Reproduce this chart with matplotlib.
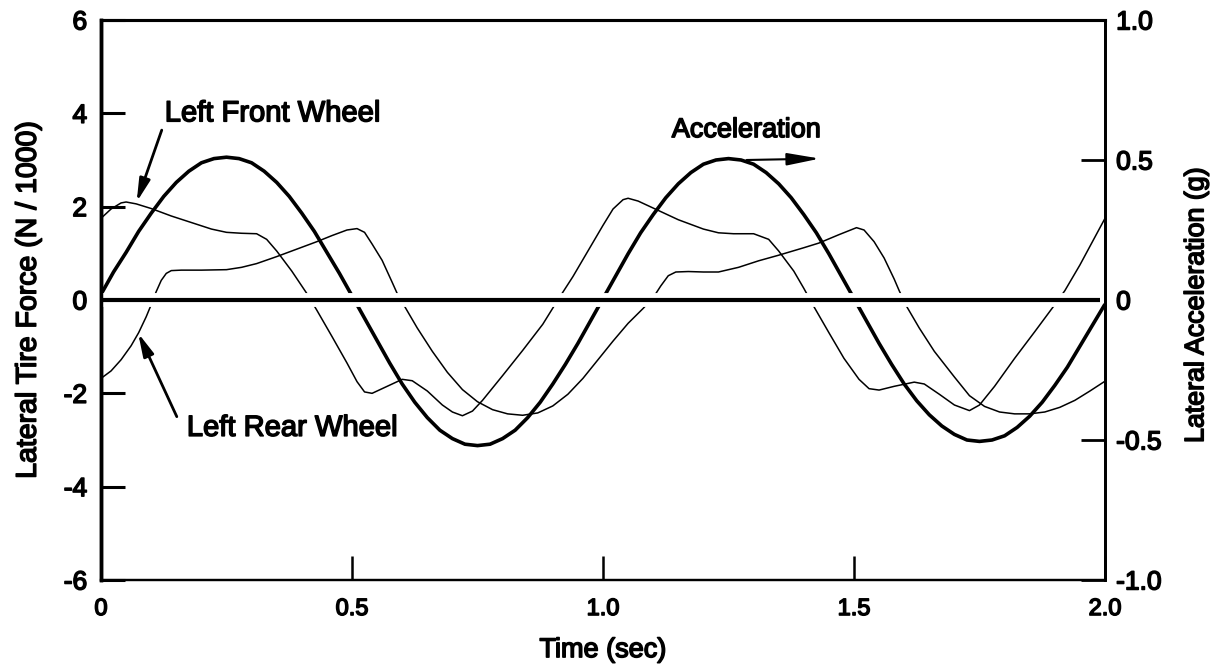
import matplotlib
matplotlib.use("Agg")
import matplotlib.pyplot as plt
import matplotlib.patheffects as pe

plt.rcParams['font.family'] = ['Liberation Sans', 'DejaVu Sans']

# ---------------- data ----------------
lf_time = [0.00, 0.02, 0.04, 0.05, 0.07, 0.10, 0.14, 0.18, 0.22, 0.25, 0.28, 0.31,
           0.33, 0.35, 0.38, 0.41, 0.43, 0.46, 0.49, 0.51, 0.525, 0.54, 0.57, 0.60,
           0.62, 0.65, 0.68, 0.70, 0.72, 0.74, 0.76, 0.80, 0.84, 0.88, 0.91, 0.94,
           0.97, 1.00, 1.02, 1.04, 1.05, 1.07, 1.10, 1.15, 1.20, 1.23, 1.26, 1.30,
           1.33, 1.35, 1.38, 1.40, 1.42, 1.45, 1.48, 1.51, 1.53, 1.55, 1.58, 1.62,
           1.64, 1.67, 1.70, 1.73, 1.75, 1.78, 1.82, 1.86, 1.90, 1.92, 1.95, 1.98, 2.00]
lf_force = [1.75, 1.95, 2.08, 2.10, 2.06, 1.96, 1.80, 1.66, 1.52, 1.45, 1.43, 1.42,
            1.30, 1.05, 0.62, 0.14, -0.22, -0.78, -1.35, -1.75, -1.97, -2.00, -1.85, -1.70,
            -1.73, -1.95, -2.25, -2.40, -2.48, -2.38, -2.15, -1.62, -1.08, -0.52, 0.00, 0.50,
            1.05, 1.60, 1.95, 2.15, 2.18, 2.12, 1.97, 1.72, 1.52, 1.44, 1.42, 1.42,
            1.30, 1.05, 0.62, 0.25, -0.14, -0.70, -1.25, -1.70, -1.90, -1.93, -1.85, -1.76,
            -1.80, -2.02, -2.25, -2.37, -2.25, -1.85, -1.25, -0.68, -0.10, 0.20, 0.75, 1.35, 1.75]

lr_time = [0.00, 0.02, 0.04, 0.06, 0.075, 0.09, 0.10, 0.11, 0.12, 0.13, 0.14, 0.16,
           0.20, 0.25, 0.28, 0.31, 0.35, 0.40, 0.43, 0.46, 0.49, 0.51, 0.525, 0.54,
           0.56, 0.58, 0.59, 0.605, 0.63, 0.66, 0.69, 0.72, 0.75, 0.78, 0.81, 0.84,
           0.87, 0.90, 0.93, 0.96, 0.99, 1.02, 1.05, 1.08, 1.10, 1.115, 1.13, 1.145,
           1.17, 1.20, 1.23, 1.27, 1.31, 1.35, 1.40, 1.43, 1.47, 1.505, 1.52, 1.54,
           1.56, 1.58, 1.59, 1.605, 1.63, 1.66, 1.70, 1.73, 1.76, 1.79, 1.82, 1.85,
           1.88, 1.91, 1.94, 1.97, 2.00]
lr_force = [-1.68, -1.52, -1.28, -0.98, -0.70, -0.36, -0.10, 0.18, 0.42, 0.57, 0.63, 0.64,
            0.64, 0.65, 0.70, 0.78, 0.93, 1.13, 1.25, 1.38, 1.50, 1.53, 1.45, 1.20,
            0.85, 0.38, 0.14, -0.14, -0.60, -1.10, -1.55, -1.92, -2.18, -2.35, -2.44, -2.47,
            -2.42, -2.27, -2.02, -1.68, -1.28, -0.88, -0.50, -0.18, 0.05, 0.30, 0.52, 0.60,
            0.61, 0.60, 0.60, 0.70, 0.84, 0.96, 1.12, 1.22, 1.40, 1.55, 1.50, 1.25,
            0.90, 0.45, 0.20, -0.14, -0.60, -1.10, -1.65, -2.05, -2.28, -2.40, -2.44, -2.44,
            -2.40, -2.30, -2.15, -1.95, -1.74]

acc_time = [0.000, 0.025, 0.050, 0.075, 0.100, 0.125, 0.150, 0.175, 0.200, 0.225,
            0.250, 0.275, 0.300, 0.325, 0.350, 0.375, 0.400, 0.425, 0.450, 0.475,
            0.500, 0.525, 0.550, 0.575, 0.600, 0.625, 0.650, 0.675, 0.700, 0.725,
            0.750, 0.775, 0.800, 0.825, 0.850, 0.875, 0.900, 0.925, 0.950, 0.975,
            1.000, 1.025, 1.050, 1.075, 1.100, 1.125, 1.150, 1.175, 1.200, 1.225,
            1.250, 1.275, 1.300, 1.325, 1.350, 1.375, 1.400, 1.425, 1.450, 1.475,
            1.500, 1.525, 1.550, 1.575, 1.600, 1.625, 1.650, 1.675, 1.700, 1.725,
            1.750, 1.775, 1.800, 1.825, 1.850, 1.875, 1.900, 1.925, 1.950, 1.975, 2.000]
acc_g = [0.02, 0.10, 0.17, 0.245, 0.31, 0.37, 0.42, 0.46, 0.49, 0.505,
         0.51, 0.505, 0.49, 0.46, 0.42, 0.37, 0.31, 0.245, 0.17, 0.095,
         0.015, -0.065, -0.145, -0.225, -0.30, -0.365, -0.42, -0.465, -0.495, -0.515,
         -0.52, -0.515, -0.495, -0.465, -0.42, -0.365, -0.30, -0.23, -0.155, -0.075,
         0.005, 0.085, 0.165, 0.24, 0.305, 0.365, 0.415, 0.455, 0.485, 0.50,
         0.505, 0.50, 0.485, 0.455, 0.415, 0.365, 0.305, 0.24, 0.165, 0.085,
         0.005, -0.075, -0.155, -0.23, -0.30, -0.36, -0.41, -0.45, -0.48, -0.50,
         -0.505, -0.50, -0.485, -0.455, -0.415, -0.365, -0.305, -0.24, -0.165, -0.09, -0.015]

force_ticks = [-6, -4, -2, 0, 2, 4, 6]
force_labels = ['-6', '-4', '-2', '0', '2', '4', '6']
acc_ticks = [-1.0, -0.5, 0.0, 0.5, 1.0]
acc_labels = ['-1.0', '-0.5', '0', '0.5', '1.0']
time_ticks = [0, 0.5, 1.0, 1.5, 2.0]
time_labels = ['0', '0.5', '1.0', '1.5', '2.0']

# ---------------- figure ----------------
fig = plt.figure(figsize=(12.13, 6.66), dpi=100)
ax1 = fig.add_axes([101/1213, 86/666, 1004/1213, 560/666])
ax2 = ax1.twinx()

bold = [pe.withStroke(linewidth=1.1, foreground='black')]

ax1.plot(lf_time, lf_force, color='black', lw=1.1, zorder=2)
ax1.plot(lr_time, lr_force, color='black', lw=1.1, zorder=2)
ax2.plot(acc_time, acc_g, color='black', lw=2.6, zorder=2, solid_capstyle='butt')
# zero line with white surround (creates gaps in the curves)
ax2.plot([0, 1.99], [0, 0], color='black', lw=3.0, zorder=2.3, solid_capstyle='butt',
         path_effects=[pe.Stroke(linewidth=10, foreground='white'), pe.Normal()])

ax1.set_xlim(0, 2.0)
ax1.set_ylim(-6, 6)
ax2.set_ylim(-1.0, 1.0)

ax1.set_xticks(time_ticks)
ax1.set_xticklabels(time_labels)
ax1.set_yticks(force_ticks)
ax1.set_yticklabels(force_labels)
ax2.set_yticks(acc_ticks)
ax2.set_yticklabels(acc_labels)

ax1.tick_params(axis='y', direction='in', length=17, width=2.2, pad=10, labelsize=19)
ax1.tick_params(axis='x', direction='in', length=17, width=1.8, pad=13, labelsize=17)
ax2.tick_params(axis='y', direction='in', length=17, width=2.0, pad=8, labelsize=19)
for tk in ax2.yaxis.get_major_ticks():
    if abs(tk.get_loc()) < 1e-9:
        tk.tick2line.set_visible(False)

for lab in ax1.get_xticklabels() + ax1.get_yticklabels() + ax2.get_yticklabels():
    lab.set_path_effects(bold)

for ax in (ax1, ax2):
    ax.spines['left'].set_linewidth(2.5)
    ax.spines['top'].set_linewidth(2.2)
    ax.spines['right'].set_linewidth(2.0)
    ax.spines['bottom'].set_linewidth(1.6)

ax1.set_xlabel('Time (sec)', fontsize=19.5, path_effects=bold)
ax1.xaxis.set_label_coords(0.5, -0.102)
ax1.set_ylabel('Lateral Tire Force (N / 1000)', fontsize=20.5, path_effects=bold)
ax1.yaxis.set_label_coords(-0.059, 0.5)
ax2.set_ylabel('Lateral Acceleration (g)', fontsize=19.3, path_effects=bold)
ax2.yaxis.set_label_coords(1.078, 0.49)

# annotations
arrow = dict(arrowstyle='-|>,head_length=0.55,head_width=0.13', color='black',
             lw=2.0, mutation_scale=25, shrinkA=0, shrinkB=0)
ax1.text(0.127, 4.0, 'Left Front Wheel', fontsize=21, va='center', ha='left', path_effects=bold)
ax1.annotate('', xy=(0.071, 2.1), xytext=(0.121, 3.64), arrowprops=arrow)
ax1.text(0.171, -2.74, 'Left Rear Wheel', fontsize=21, va='center', ha='left', path_effects=bold)
ax1.annotate('', xy=(0.074, -0.71), xytext=(0.151, -2.5), arrowprops=arrow)
ax1.text(1.137, 3.64, 'Acceleration', fontsize=19.5, va='center', ha='left', path_effects=bold)
ax1.annotate('', xy=(1.432, 3.03), xytext=(1.286, 3.0),
             arrowprops=dict(arrowstyle='-|>,head_length=0.8,head_width=0.15', color='black',
                             lw=1.5, mutation_scale=25, shrinkA=0, shrinkB=0))

fig.savefig('out.png', dpi=100, facecolor='white')
